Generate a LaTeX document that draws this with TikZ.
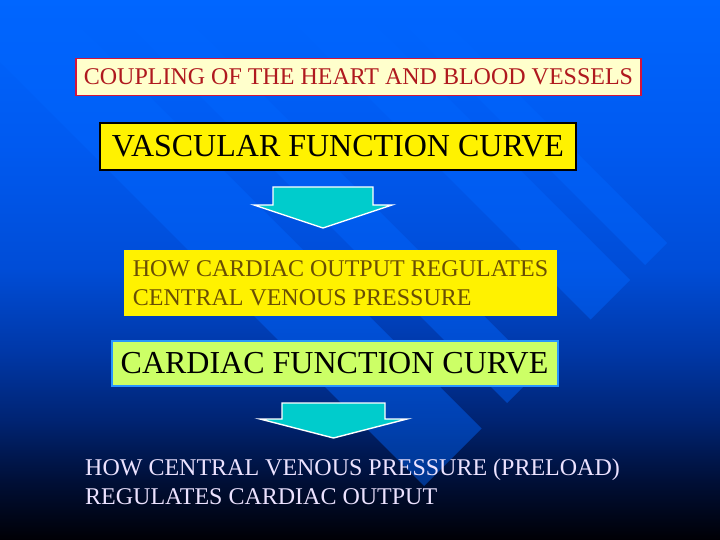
\documentclass[tikz,border=0pt]{standalone}
\usepackage{fontspec}
\setmainfont{Liberation Serif}

\definecolor{paleyellow}{RGB}{255,255,204}
\definecolor{crimsonline}{RGB}{210,20,60}
\definecolor{crimsontext}{RGB}{175,25,30}
\definecolor{limeyellow}{RGB}{204,255,102}
\definecolor{skyline}{RGB}{40,150,255}
\definecolor{olivetext}{RGB}{105,78,5}
\definecolor{arrowteal}{RGB}{0,204,204}
\definecolor{lavender}{RGB}{236,226,255}
\definecolor{stripeblue}{RGB}{0,102,255}

% slide background, dark at the foot
\pgfdeclareverticalshading{slideshade}{100bp}{%
  rgb(0bp)=(0,0,0.02); rgb(25bp)=(0,0,0.02); rgb(30.6bp)=(0,0.06,0.22);
  rgb(36.1bp)=(0,0.14,0.45); rgb(42.6bp)=(0,0.22,0.66); rgb(50bp)=(0,0.30,0.84);
  rgb(61.1bp)=(0,0.35,0.94); rgb(75bp)=(0,0.40,1); rgb(100bp)=(0,0.40,1)}

\tikzset{
  bigfont/.style={font=\fontsize{32}{38}\selectfont},
  midfont/.style={font=\fontsize{24}{29}\selectfont},
  titlebox/.style={midfont, draw=crimsonline, line width=1.5pt, fill=paleyellow,
    text=crimsontext, minimum width=565pt, minimum height=37pt, inner sep=0pt},
  curvebox/.style={bigfont, line width=2pt, inner sep=0pt},
  notebox/.style={midfont, fill=yellow, text=olivetext, align=left,
    minimum width=433pt, minimum height=66pt, inner sep=0pt},
  blockarrow/.style={fill=arrowteal, draw=white, line width=1.4pt, line join=miter},
  stripe/.style={stripeblue, fill opacity=0.45}
}

\begin{document}
\begin{tikzpicture}[x=1pt, y=-1pt]
  \useasboundingbox (0,0) rectangle (720,540);
  \shade[shading=slideshade] (0,0) rectangle (720,540);
  \begin{scope}
    \clip (0,0) rectangle (720,540);
    % diagonal bands, all ending on x+y=910
    \foreach \a/\b in {380/424, 271/350, 104/168, -62/53}
      \fill[stripe] ({(\a)/2},{(-\a)/2}) -- ({(910+\a)/2},{(910-\a)/2})
        -- ({(910+\b)/2},{(910-\b)/2}) -- ({(\b)/2},{(-\b)/2}) -- cycle;
  \end{scope}

  \node[titlebox] (coupling) at (358.5,77) {COUPLING OF THE HEART AND BLOOD VESSELS};
  \node[curvebox, draw=black, fill=yellow, minimum width=476pt, minimum height=47pt]
    (vascular) at (338,146.5) {VASCULAR FUNCTION CURVE};
  \node[notebox] (howco) at (340.5,283) {HOW CARDIAC OUTPUT REGULATES\\CENTRAL VENOUS PRESSURE};
  \node[curvebox, draw=skyline, fill=limeyellow, minimum width=446pt, minimum height=45pt]
    (cardiac) at (334.5,363.5) {CARDIAC FUNCTION CURVE};
  \node[midfont, text=lavender, align=left, anchor=west, inner sep=0pt]
    (howcvp) at (85,482) {HOW CENTRAL VENOUS PRESSURE (PRELOAD)\\REGULATES CARDIAC OUTPUT};

  \coordinate (arrowA) at (323,187);
  \coordinate (arrowB) at (333.5,403);
  \draw[blockarrow] (arrowA) ++(-50,0) -- ++(100,0) -- ++(0,18) -- ++(19,0)
    -- ++(-69,23) -- ++(-69,-23) -- ++(19,0) -- cycle;
  \draw[blockarrow] (arrowB) ++(-51.5,0) -- ++(103,0) -- ++(0,16) -- ++(22,0)
    -- ++(-73.5,19) -- ++(-73.5,-19) -- ++(22,0) -- cycle;
\end{tikzpicture}
\end{document}
